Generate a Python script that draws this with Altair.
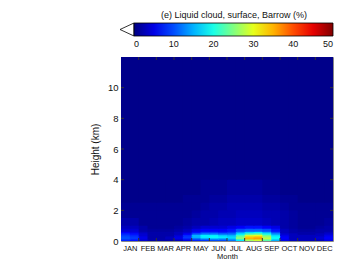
import altair as alt
import pandas as pd

MONTHS = ["JAN", "FEB", "MAR", "APR", "MAY", "JUN", "JUL", "AUG", "SEP", "OCT", "NOV", "DEC"]
MONTH_CENTERS = [0.5, 1.5, 2.5, 3.5, 4.5, 5.5, 6.5, 7.5, 8.5, 9.5, 10.5, 11.5]
MONTH_BOUNDS = [1, 2, 3, 4, 5, 6, 7, 8, 9, 10, 11]
# half-month column edges (in month units)
COL_EDGES = [0, 0.5, 1, 1.5, 2, 2.5, 3, 3.5, 4, 4.5, 5, 5.5, 6, 6.5, 7, 7.5, 8, 8.5,
             9, 9.5, 10, 10.5, 11, 11.5, 12]
# height band edges (km)
HEIGHT_EDGES = [0, 0.1, 0.2, 0.3, 0.4, 0.5, 0.6, 0.8, 1.0, 1.5, 2.0, 2.5, 3.0, 4.0, 12.0]
Y_TICKS = [0, 2, 4, 6, 8, 10]
CBAR_TICKS = [0, 10, 20, 30, 40, 50]

# liquid cloud occurrence (%), one row per height band (bottom to top), 24 half-month columns
VALUES = [
    [8, 7, 4, 2, 2, 2, 3, 5, 8, 9, 10, 10, 12, 18, 27, 29, 23, 15, 5, 3, 3, 3, 3, 5],
    [10, 9, 5, 2, 2, 3, 5, 8, 12, 15, 16, 15, 16, 25, 35, 36, 28, 19, 6, 3, 3, 3, 4, 6],
    [10, 9, 5, 2, 2, 3, 5, 9, 15, 18, 19, 18, 17, 25, 34, 35, 27, 19, 6, 3, 3, 3, 4, 6],
    [9, 8, 4, 2, 2, 2, 4, 8, 15, 18, 18, 16, 15, 22, 29, 30, 24, 17, 5, 3, 3, 3, 3, 5],
    [8, 7, 4, 2, 2, 2, 3, 6, 11, 13, 13, 12, 12, 18, 23, 24, 20, 14, 4, 3, 2, 2, 3, 4],
    [6, 5, 3, 2, 2, 2, 3, 4, 7, 9, 9, 8, 9, 14, 17, 18, 15, 10, 3, 2, 2, 2, 2, 3],
    [4, 4, 2, 1.5, 1.5, 1.5, 2, 3, 5, 6, 6, 6, 7, 10, 11, 11, 10, 7, 3, 2, 1.5, 1.5, 2, 2],
    [3, 3, 2, 1, 1, 1, 1.5, 2, 3, 4, 4, 4, 5, 6, 7, 7, 6, 5, 2, 1.5, 1, 1, 1.5, 2],
    [2, 2, 1, 1, 1, 1, 1, 1.5, 2, 2, 2.5, 3, 3, 3.5, 3.5, 3.5, 3, 2.5, 2, 1.5, 1, 1, 1, 1.5],
    [1, 1, 1, 1, 1, 1, 1, 1, 1.5, 2, 2, 2.5, 2.5, 3, 3, 3, 2.5, 2.5, 2, 1.5, 1, 1, 1, 1],
    [1, 1, 1, 1, 1, 1, 1, 1, 1, 1.5, 2, 2, 2.5, 2.5, 2.5, 2.5, 2, 2, 1.5, 1, 1, 1, 1, 1],
    [0.5, 0.5, 0.5, 0.5, 0.5, 0.5, 0.5, 1, 1, 1, 1.5, 1.5, 2, 2, 2, 2, 1.5, 1.5, 1, 1, 0.5, 0.5, 0.5, 0.5],
    [0.5, 0.5, 0.5, 0.5, 0.5, 0.5, 0.5, 0.5, 0.5, 1, 1, 1, 1.5, 1.5, 1.5, 1.5, 1, 1, 0.5, 0.5, 0.5, 0.5, 0.5, 0.5],
    [0.5] * 24,
]

rows = []
for r, vals in enumerate(VALUES):
    for c, v in enumerate(vals):
        rows.append({"x0": COL_EDGES[c], "x1": COL_EDGES[c + 1],
                     "y0": HEIGHT_EDGES[r], "y1": HEIGHT_EDGES[r + 1], "v": v})
df = pd.DataFrame(rows)

FONT = "Liberation Sans"
W, H = 212, 184

jet = alt.Scale(domain=[0, 6.25, 18.75, 31.25, 43.75, 50],
                range=["#000080", "#0000ff", "#00ffff", "#ffff00", "#ff0000", "#800000"],
                interpolate="rgb", clamp=True)

label_expr = "[" + ",".join("'" + m + "'" for m in MONTHS) + "][floor(datum.value)]"

xscale = alt.Scale(domain=[0, 12], nice=False, zero=False)
yscale = alt.Scale(domain=[0, 12], nice=False, zero=False)

xaxis = alt.Axis(values=MONTH_CENTERS, labelExpr=label_expr, tickSize=0,
                 domain=False, grid=False, labelFontSize=7.5, labelPadding=3,
                 labelFlush=False, labelOverlap=False, labelColor="#111111",
                 title="Month", titleColor="#111111",
                 titleFontSize=7.5, titleFontWeight="normal", titlePadding=1)
yaxis = alt.Axis(values=Y_TICKS, tickSize=0, domain=False, grid=False,
                 labelFontSize=9.5, labelPadding=3, labelOverlap=False,
                 labelFlush=False, labelColor="#111111", title="Height (km)",
                 titleColor="#111111",
                 titleFontSize=10, titleFontWeight="normal", titlePadding=7)

heat = alt.Chart(df).mark_rect(x2Offset=1, y2Offset=-1, clip=True).encode(
    x=alt.X("x0:Q", scale=xscale, axis=xaxis),
    x2="x1:Q",
    y=alt.Y("y0:Q", scale=yscale, axis=yaxis),
    y2="y1:Q",
    color=alt.Color("v:Q", scale=jet,
                    legend=alt.Legend(type="gradient", orient="none", legendX=13,
                                      legendY=-46, direction="horizontal",
                                      gradientLength=199, gradientThickness=13,
                                      title="(e) Liquid cloud, surface, Barrow (%)",
                                      titleOrient="top", titleAnchor="middle",
                                      titleFontSize=9, titleFontWeight="normal",
                                      titlePadding=3, labelFontSize=9,
                                      values=CBAR_TICKS, labelAlign="center",
                                      labelOffset=4, gradientStrokeColor="black",
                                      gradientStrokeWidth=0.8)),
)

xb = pd.DataFrame({"x0": MONTH_BOUNDS})
yb = pd.DataFrame({"y0": Y_TICKS[1:]})
tick_color = "#333333"
xt_bottom = alt.Chart(xb).mark_rule(color=tick_color, strokeWidth=1).encode(
    x=alt.X("x0:Q", scale=xscale, axis=xaxis), y=alt.value(H), y2=alt.value(H - 3))
xt_top = alt.Chart(xb).mark_rule(color=tick_color, strokeWidth=1).encode(
    x=alt.X("x0:Q", scale=xscale, axis=xaxis), y=alt.value(0), y2=alt.value(3))
yt_left = alt.Chart(yb).mark_rule(color=tick_color, strokeWidth=1).encode(
    y=alt.Y("y0:Q", scale=yscale, axis=yaxis), x=alt.value(0), x2=alt.value(3))
yt_right = alt.Chart(yb).mark_rule(color=tick_color, strokeWidth=1).encode(
    y=alt.Y("y0:Q", scale=yscale, axis=yaxis), x=alt.value(W), x2=alt.value(W - 3))

tri = alt.Chart(pd.DataFrame({"a": [0]})).mark_point(
    shape="M -1 0 L 1 -0.93 L 1 0.93 Z", filled=True, fill="white",
    stroke="black", strokeWidth=0.8, size=196, opacity=1
).encode(x=alt.value(6), y=alt.value(-27.5))

chart = alt.layer(heat, xt_bottom, xt_top, yt_left, yt_right, tri).properties(
    width=W, height=H,
    autosize=alt.AutoSizeParams(type="none"),
    padding={"left": 113, "top": 49, "right": 13, "bottom": 20},
).configure(font=FONT).configure_view(stroke="#888888", strokeWidth=1).configure_legend(
    labelColor="#111111", titleColor="#111111")

chart.save("out.html", embed_options={"renderer": "svg", "actions": False})
